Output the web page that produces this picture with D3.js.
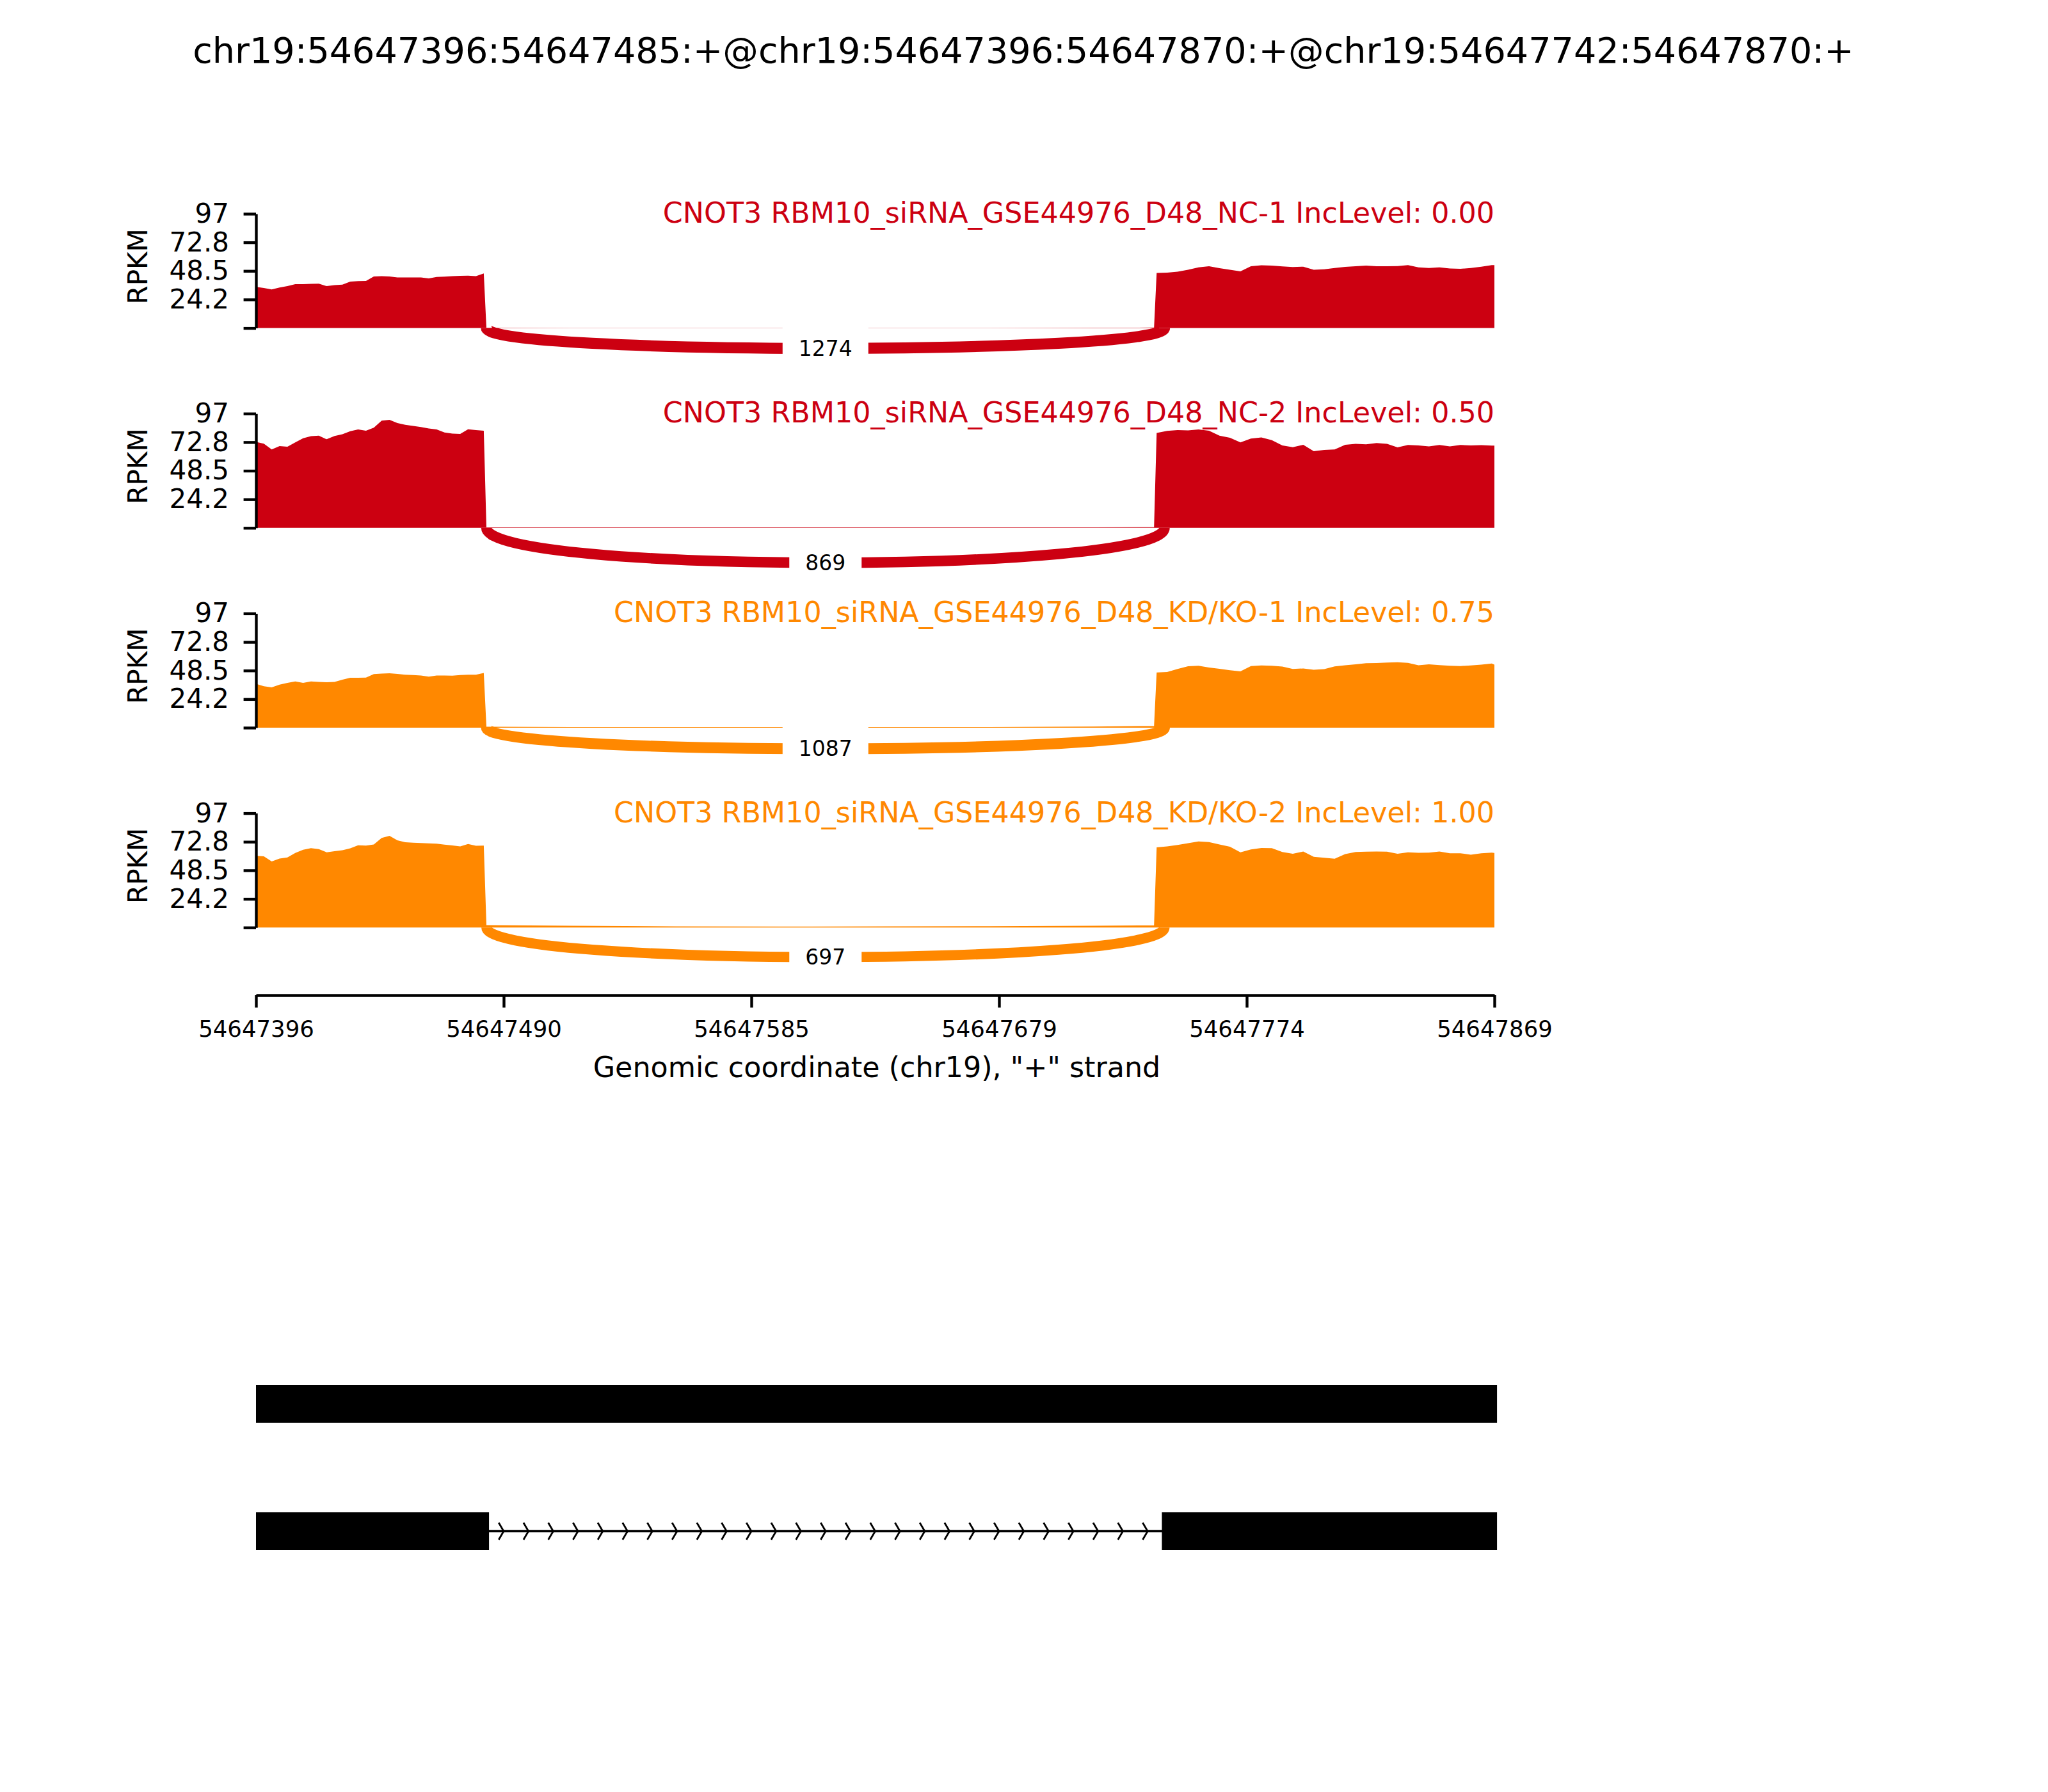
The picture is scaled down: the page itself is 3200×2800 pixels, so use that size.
<!DOCTYPE html>
<html><head><meta charset="utf-8">
<script src="https://cdn.jsdelivr.net/npm/d3@7"></script>
<style>
body{margin:0;background:#fff}
svg text{font-family:"DejaVu Sans",sans-serif}
</style>
</head><body>
<svg id="chart" width="3200" height="2800"></svg>
<script>
// ---------------- data ----------------
const title = "chr19:54647396:54647485:+@chr19:54647396:54647870:+@chr19:54647742:54647870:+";
const geneName = "CNOT3";
const sampleNames = ["RBM10_siRNA_GSE44976_D48_NC-1","RBM10_siRNA_GSE44976_D48_NC-2","RBM10_siRNA_GSE44976_D48_KD/KO-1","RBM10_siRNA_GSE44976_D48_KD/KO-2"];
const incLevels = ["0.00","0.50","0.75","1.00"];
const sampleColors = ["#CC0011","#CC0011","#FF8800","#FF8800"];
const junctionCounts = [1274, 869, 1087, 697];
const junction = [54647485, 54647743];          // donor, acceptor
const regionStart = 54647396, regionEnd = 54647869;
const xTickLabels = ["54647396","54647490","54647585","54647679","54647774","54647869"];
const xLabel = 'Genomic coordinate (chr19), "+" strand';
const yMax = 97;
const yTickValues = [0, 24.25, 48.5, 72.75, 97];
const yTickLabels = ["", "24.2", "48.5", "72.8", "97"];
const yLabel = "RPKM";

// coverage sample offsets (bp from regionStart)
const exon1Offsets = [0,3,6,9,12,15,18,21,24,27,30,33,36,39,42,45,48,51,54,57,60,63,66,69,72,75,78,81,84,87];
const intronOffsets = [88,120,160,200,240,280,320,343];
const exon2Offsets = [344,348,352,356,360,364,368,372,376,380,384,388,392,396,400,404,408,412,416,420,424,428,432,436,440,444,448,452,456,460,464,468,472,473];

const cov1Exon1 = [34.9,34,32.8,34.4,35.6,37.3,37.3,37.5,37.6,35.6,36.5,36.9,39.4,39.8,40,43.8,44.1,43.8,42.9,42.9,42.9,42.9,42.2,43.4,43.6,44,44.3,44.5,44.1,46.3];
const cov1Intron = [0.3,0.2,0.2,0.2,0.2,0.2,0.3,0.4];
const cov1Exon2 = [46.7,47,47.8,49.5,51.5,52.5,50.8,49.5,48.1,52.5,53.3,53,52.3,51.8,52.1,49.5,49.9,51,51.9,52.5,53,52.5,52.5,52.6,53.4,51.5,51,51.5,50.5,50.3,51,52,53.4,53.4];

const cov2Exon1 = [73,71.5,66.5,69.4,68.8,72.5,76,77.8,78.2,75.2,78,79.5,82,83.5,82.5,85,91,91.7,89,87.5,86.5,85.5,84.3,83.5,81,80,79.7,83.6,83,82.5];
const cov2Intron = [0.5,0.4,0.4,0.5,0.4,0.4,0.4,0.6];
const cov2Exon2 = [80.5,82.3,83,82.7,83.5,82.5,78.2,76.5,72.5,75.8,76.8,74.5,70,68.5,70.5,65,66.2,66.5,70.5,71.3,70.9,72,71.3,68.3,70.3,70,69.2,70.3,69.2,70.3,70,70.2,69.8,69.8];

const cov3Exon1 = [37.2,35.2,34.2,36.5,38,39.3,38,39.3,38.8,38.6,38.9,40.8,42.3,42.4,42.5,45.5,45.9,46.1,45.6,45,44.7,44.2,43.3,44.2,44.3,44.1,44.7,45,45,46.5];
const cov3Intron = [0.8,0.6,0.5,0.5,0.5,0.6,1,1.4];
const cov3Exon2 = [46.8,47.2,49.8,52.2,52.6,51,50,48.8,47.8,52.3,52.8,52.5,51.8,49.8,50.3,49.2,49.7,52,53,53.8,54.7,54.9,55.3,55.5,55,53,53.8,53.1,52.6,52.3,52.8,53.5,54.5,53.5];

const cov4Exon1 = [60.8,60.4,56,58.5,59.5,63.3,66,67.3,66.5,63.8,64.8,65.6,67.2,69.8,69.5,70.5,76,77.8,74,72.4,72,71.7,71.4,71.1,70.3,69.6,68.8,70.8,69.4,69.5];
const cov4Intron = [2,1.5,0.9,0.8,0.9,1.1,1.5,1.8];
const cov4Exon2 = [68,68.8,70,71.5,73,72.5,70.5,68.5,63.8,66.3,67.5,67.3,64,62.5,64.5,60,59.2,58.4,62.3,64,64.3,64.4,64.3,62.5,63.8,63.4,63.5,64.5,63,63,61.8,63,63.5,63.3];

// isoform structures (exons)
const isoforms = [
  [[54647396, 54647870]],
  [[54647396, 54647485], [54647742, 54647870]]
];
const nArrows = 50;

// ---------------- layout ----------------
const svg = d3.select("#chart");
const W = 3200, H = 2800;
svg.append("rect").attr("width", W).attr("height", H).attr("fill", "#fff");

const x = d3.scaleLinear().domain([regionStart, regionEnd]).range([400, 2335]);
const panelTop0 = 334, panelStep = 312.2, panelH = 178.6;
const ptPx = 400 / 72;

svg.append("text").attr("x", 1599).attr("y", 98).attr("text-anchor", "middle")
  .attr("font-size", 55.6).attr("fill", "#000").text(title);

const coverage = [
  [cov1Exon1, cov1Intron, cov1Exon2],
  [cov2Exon1, cov2Intron, cov2Exon2],
  [cov3Exon1, cov3Intron, cov3Exon2],
  [cov4Exon1, cov4Intron, cov4Exon2]
];
const offsetsAll = exon1Offsets.concat(intronOffsets, exon2Offsets);

coverage.forEach((parts, i) => {
  const top = panelTop0 + i * panelStep, base = top + panelH;
  const y = d3.scaleLinear().domain([0, yMax]).range([base, top]);
  const vals = parts[0].concat(parts[1], parts[2]);
  const pts = offsetsAll.map((o, k) => ({pos: regionStart + o, v: vals[k]}));
  const color = sampleColors[i];
  const g = svg.append("g");

  const area = d3.area().x(d => x(d.pos)).y0(y(0)).y1(d => y(d.v));
  g.append("path").datum(pts).attr("d", area).attr("fill", color).attr("stroke", "none");

  // junction arc (cubic bezier under axis)
  const maxCov = d3.max(vals);
  const h = 0.43 * maxCov;
  const ss1 = x(junction[0] - 1), ss2 = x(junction[1]);
  const p = d3.path();
  p.moveTo(ss1, y(0));
  p.bezierCurveTo(ss1, y(-h), ss2, y(-h), ss2, y(0));
  g.append("path").attr("d", p.toString()).attr("fill", "none").attr("stroke", color)
    .attr("stroke-width", Math.log10(junctionCounts[i] + 1) * ptPx);

  // junction label
  const mx = (ss1 + ss2) / 2, my = y(-0.75 * h);
  const lab = g.append("text").attr("x", mx).attr("y", my).attr("text-anchor", "middle")
    .attr("dominant-baseline", "central").attr("font-size", 33).attr("fill", "#000")
    .text(junctionCounts[i]);
  const bb = lab.node().getBBox();
  g.insert("rect", "text").attr("x", bb.x - 25).attr("y", my - 36)
    .attr("width", bb.width + 50).attr("height", 72).attr("fill", "#fff");

  // sample label
  g.append("text").attr("x", x(regionEnd)).attr("y", top + 14).attr("text-anchor", "end")
    .attr("font-size", 44.4).attr("fill", color)
    .text(`${geneName} ${sampleNames[i]} IncLevel: ${incLevels[i]}`);

  // y axis
  const ax = g.append("g").attr("transform", `translate(400,0)`)
    .call(d3.axisLeft(y).tickValues(yTickValues).tickFormat((d, k) => yTickLabels[k])
      .tickSize(19.4).tickSizeOuter(0).tickPadding(22.6));
  ax.select(".domain").attr("stroke", "#000").attr("stroke-width", 4.4);
  ax.selectAll(".tick line").attr("stroke", "#000").attr("stroke-width", 4.4);
  ax.selectAll(".tick text").attr("font-size", 42).attr("fill", "#000")
    .attr("font-family", "DejaVu Sans");

  g.append("text").attr("transform", `translate(230,${(top + base) / 2 - 7}) rotate(-90)`)
    .attr("text-anchor", "middle").attr("font-size", 42).attr("fill", "#000").text(yLabel);
});

// x axis
const xTicks = d3.range(xTickLabels.length).map(k => regionStart + k * (regionEnd - regionStart) / (xTickLabels.length - 1));
const xAx = svg.append("g").attr("transform", "translate(0,1555)")
  .call(d3.axisBottom(x).tickValues(xTicks).tickFormat((d, k) => xTickLabels[k])
    .tickSize(19.4).tickSizeOuter(0).tickPadding(20.4));
xAx.select(".domain").attr("stroke", "#000").attr("stroke-width", 4.4);
xAx.selectAll(".tick line").attr("stroke", "#000").attr("stroke-width", 4.4);
xAx.selectAll(".tick text").attr("font-size", 35.5).attr("fill", "#000").attr("font-family", "DejaVu Sans");
svg.append("text").attr("x", 1370).attr("y", 1683).attr("text-anchor", "middle")
  .attr("font-size", 44.4).attr("fill", "#000").text(xLabel);

// gene model
const rowY0 = 2193.5, rowStep = 199, exonH = 59;
const span = regionEnd - regionStart;
const spread = 0.2 * span / nArrows;
isoforms.forEach((exons, r) => {
  const cy = rowY0 + r * rowStep;
  const g = svg.append("g");
  g.append("line").attr("x1", x(regionStart)).attr("x2", x(regionEnd)).attr("y1", cy).attr("y2", cy)
    .attr("stroke", "#000").attr("stroke-width", 3.3);
  d3.range(1, nArrows).forEach(k => {
    const loc = regionStart + k * span / nArrows;
    g.append("path")
      .attr("d", `M${x(loc - spread)},${cy - 13.3} L${x(loc)},${cy} L${x(loc - spread)},${cy + 13.3}`)
      .attr("fill", "none").attr("stroke", "#000").attr("stroke-width", 2.8);
  });
  exons.forEach(e => {
    g.append("rect").attr("x", x(e[0])).attr("y", cy - exonH / 2)
      .attr("width", x(e[1]) - x(e[0])).attr("height", exonH).attr("fill", "#000");
  });
});
</script>
</body></html>
